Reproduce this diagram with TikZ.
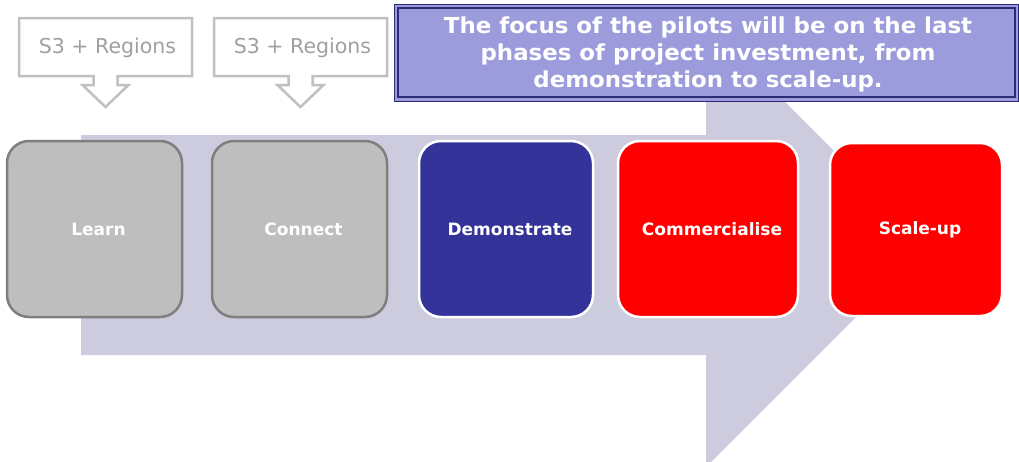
\documentclass[tikz,border=0pt]{standalone}
\usepackage{fontspec}
\setmainfont{DejaVu Sans}
\newfontfamily\focusfont[FakeStretch=1.04]{DejaVu Sans}
\definecolor{arrowbg}{RGB}{204,204,222}
\definecolor{boxgray}{RGB}{190,190,190}
\definecolor{bordergray}{RGB}{127,127,127}
\definecolor{navy}{RGB}{51,51,153}
\definecolor{calloutgray}{RGB}{192,192,192}
\definecolor{callouttext}{RGB}{160,160,160}
\definecolor{focusfill}{RGB}{156,156,220}
\definecolor{focusline}{RGB}{43,43,120}
\newcommand{\phaselabel}[1]{\hspace*{8pt}#1}
\begin{document}
\begin{tikzpicture}[x=1pt,y=-1pt,
  phase/.style={rounded corners=22pt, inner sep=0pt, line width=2.5pt, text=white,
    minimum height=176pt, font=\bfseries\fontsize{17}{20}\selectfont},
  callout/.style={draw=calloutgray, fill=white, line width=2.5pt, line join=miter},
  callouttxt/.style={text=callouttext, font=\fontsize{20.5}{24}\selectfont, inner sep=0pt},
]
\useasboundingbox (0,0) rectangle (1019,461);
\clip (0,0) rectangle (1019,461);
% big arrow
\fill[arrowbg] (81,135) -- (706,135) -- (706,23) -- (928,245) -- (706,467) -- (706,355) -- (81,355) -- cycle;
% phase boxes
\node[phase, fill=boxgray, draw=bordergray, minimum width=175pt] (learn) at (94.5,229) {\phaselabel{Learn}};
\node[phase, fill=boxgray, draw=bordergray, minimum width=175pt] (connect) at (299.5,229) {\phaselabel{Connect}};
\node[phase, fill=navy, draw=white, minimum width=174pt] (demo) at (506,229) {\phaselabel{Demonstrate}};
\node[phase, fill=red, draw=white, minimum width=180pt] (comm) at (708,229) {\phaselabel{Commercialise}};
\node[phase, fill=red, draw=white, minimum width=172pt, minimum height=173pt] (scale) at (916,229.5) {\phaselabel{Scale-up}};
% callouts
\foreach \cx/\nm in {105.5/c1, 300.5/c2}{
  \draw[callout] (\cx-86.5,18) -- (\cx+86.5,18) -- (\cx+86.5,76) -- (\cx+12,76) -- (\cx+12,85)
    -- (\cx+23,85) -- (\cx,107) -- (\cx-23,85) -- (\cx-12,85) -- (\cx-12,76) -- (\cx-86.5,76) -- cycle;
  \node[callouttxt] (\nm) at (\cx+2,48) {S3 + Regions};
}
% focus box
\draw[focusline, line width=1pt, fill=focusfill] (394,4) rectangle (1018,101);
\draw[focusline, line width=2.2pt] (398,8) rectangle (1015,97);
\node[text=white, align=center, inner sep=0pt, font=\focusfont\bfseries\fontsize{22}{26.7}\selectfont] (focus) at (708,54.3)
  {The focus of the pilots will be on the last\\ phases of project investment, from\\ demonstration to scale-up.};
\end{tikzpicture}
\end{document}
